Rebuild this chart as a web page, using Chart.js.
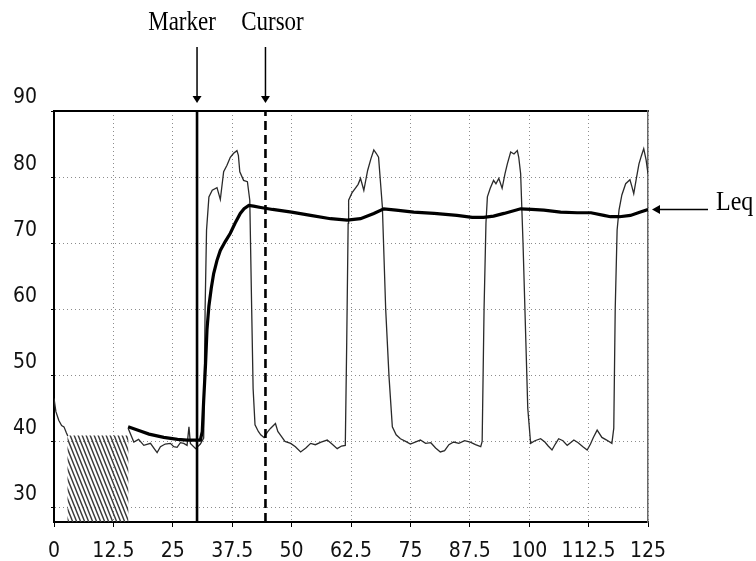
<!DOCTYPE html>
<html>
<head>
<meta charset="utf-8">
<title>Leq trace</title>
<script src="https://cdn.jsdelivr.net/npm/chart.js@4.4.1/dist/chart.umd.min.js"></script>
<style>
  body { margin: 0; background: #fff; }
</style>
</head>
<body>
<canvas id="leqChart" width="756" height="561"></canvas>
<script>
// axis ticks
var xTicks = [0, 12.5, 25, 37.5, 50, 62.5, 75, 87.5, 100, 112.5, 125];
var yTicks = [30, 40, 50, 60, 70, 80, 90];

// instantaneous level (thin trace), null = hidden under the hatch
var levelTime = [0, 0.4, 1.0, 1.6, 2.1, 2.6, 2.9, 9,
  15.6, 16.8, 17.8, 18.9, 20.3, 21.2, 21.7, 22.4, 23.4, 24.5, 25.2, 25.9, 26.6, 27.3, 28.0, 28.4, 28.7, 29.8, 30.8, 31.5,
  31.8, 32.1, 32.6, 33.3, 34.3, 35.0, 35.7, 36.4, 37.1, 37.8, 38.5, 38.8, 39.1, 39.9, 40.7, 41.2, 41.6, 41.9,
  42.3, 43.0, 43.5, 44.2, 44.9, 45.6, 46.6, 47.1, 47.7, 48.6, 49.8, 50.8, 51.9, 53.0, 54.0, 55.0, 56.2, 57.5, 58.5, 59.6, 60.5, 61.3,
  61.6, 61.9, 62.0, 62.7, 63.4, 64.0, 64.5, 65.2, 66.0, 66.7, 67.3, 67.8, 68.3, 69.1, 69.8, 70.5,
  71.2, 72.0, 72.9, 74.0, 75.0, 76.0, 77.1, 78.2, 79.3, 80.3, 81.3, 82.2, 83.1, 84.1, 85.2, 86.4, 87.6, 88.7, 89.8, 90.1,
  90.5, 90.9, 91.2, 91.8, 92.5, 93.0, 93.6, 94.3, 94.9, 95.4, 96.1, 96.8, 97.5, 97.8, 98.2, 98.7, 99.3, 99.7,
  100.3, 101.2, 102.4, 103.3, 104.0, 104.8, 105.5, 106.2, 107.1, 108.0, 108.7, 109.4, 110.3, 111.3, 112.2, 112.9, 113.5, 114.3, 115.3, 116.3, 117.4, 117.8,
  118.1, 118.5, 118.9, 119.5, 120.3, 121.2, 121.6, 122.0, 122.6, 123.1, 123.6, 124.1, 124.6, 125.0];
var levelDb = [46.5, 44.5, 43.2, 42.4, 42.2, 41.3, 40.8, null,
  42.0, 39.9, 40.3, 39.4, 39.7, 38.8, 38.3, 39.2, 39.6, 39.7, 39.2, 39.1, 39.8, 39.7, 39.4, 42.2, 39.7, 38.9, 39.6, 40.5,
  60, 72, 77.0, 78.0, 78.4, 76.6, 80.8, 81.8, 83.0, 83.6, 84.0, 83.3, 80.8, 79.5, 79.3, 76.5, 60, 48,
  42.5, 41.5, 41.0, 40.6, 41.4, 42.0, 42.7, 41.5, 40.9, 40.0, 39.7, 39.2, 38.4, 39.0, 39.7, 39.5, 39.9, 40.2, 39.6, 38.9, 39.3, 39.4,
  55, 73, 76.5, 77.6, 78.3, 78.9, 79.8, 78.0, 81.0, 82.8, 84.1, 83.6, 83.0, 75.5, 60, 49.8,
  42.2, 41.0, 40.4, 40.0, 39.6, 39.9, 40.2, 39.7, 39.8, 39.0, 38.4, 38.6, 39.5, 39.9, 39.7, 40.1, 39.9, 39.5, 39.2, 40.0,
  60, 73, 77.0, 78.3, 79.5, 79.0, 79.8, 78.3, 80.5, 82.0, 83.8, 83.5, 84.0, 83.0, 80.5, 70, 55, 45,
  39.7, 40.1, 40.4, 39.9, 39.3, 38.7, 39.6, 40.4, 40.1, 39.4, 39.8, 40.2, 39.8, 39.2, 38.7, 39.6, 40.6, 41.7, 40.6, 40.2, 39.7, 42,
  60, 72, 75.0, 77.3, 79.0, 79.6, 78.6, 77.5, 80.0, 82.0, 83.2, 84.3, 82.6, 80.5];

// running Leq (thick trace)
var leqTime = [15.6, 18, 20, 23.1, 26, 28, 30.8, 31.2, 31.5, 31.9, 32.2, 32.6, 33.1, 33.6, 34.3, 35.0, 36.0, 37.1, 38.1, 39.2,
  40.0, 41.0, 42.0, 43.5, 46, 50, 54, 58.2, 61.7, 64.5, 67.3, 69.4, 72, 75.7, 80, 84.8, 88, 90.4, 92.5, 94.7,
  98.2, 100.5, 103.1, 106.6, 110.1, 113, 115.7, 117.1, 119, 121.3, 123.4, 125];
var leqDb = [42.2, 41.6, 41.1, 40.6, 40.3, 40.2, 40.2, 41.5, 46.2, 51.8, 57, 60.5, 63.2, 65.4, 67.4, 68.9, 70.2, 71.5, 73.0, 74.5,
  75.2, 75.7, 75.6, 75.4, 75.1, 74.7, 74.2, 73.7, 73.5, 73.7, 74.5, 75.2, 75.0, 74.7, 74.5, 74.2, 73.9, 73.9, 74.1, 74.5,
  75.2, 75.1, 75.0, 74.7, 74.6, 74.6, 74.2, 74.0, 74.0, 74.2, 74.7, 75.1];

// hatched block
var hatchTime = [2.8, 15.7];
var hatchTop = [40.9, 40.9];

var markerAt = 30.1;
var cursorAt = 44.5;
var yMin = 27.8, yMax = 90;

var toPoints = (xs, ys) => xs.map((v, i) => ({x: v, y: ys[i]}));

var makeHatch = () => {
    var c = document.createElement('canvas');
    c.width = 4; c.height = 10;
    var g = c.getContext('2d');
    g.strokeStyle = '#3a3a3a';
    g.lineWidth = 1.4;
    g.beginPath();
    [-4, 0, 4].forEach(dx => { g.moveTo(dx - 0.8, -2); g.lineTo(dx + 4.8, 12); });
    g.stroke();
    return g.createPattern(c, 'repeat');
};

var downArrow = (ctx, px, y0, y1) => {
    ctx.lineWidth = 1.5;
    ctx.beginPath(); ctx.moveTo(px, y0); ctx.lineTo(px, y1 - 5); ctx.stroke();
    ctx.beginPath(); ctx.moveTo(px - 4.5, y1 - 7); ctx.lineTo(px + 4.5, y1 - 7); ctx.lineTo(px, y1); ctx.closePath(); ctx.fill();
};

var serifText = (ctx, txt, cx, baseY, align) => {
    ctx.save();
    ctx.translate(cx, baseY);
    ctx.scale(1, 1.15);
    ctx.textAlign = align;
    ctx.textBaseline = 'alphabetic';
    ctx.fillText(txt, 0, 0);
    ctx.restore();
};

var callouts = {
    id: 'callouts',
    afterDatasetsDraw(chart) {
        var ctx = chart.ctx, x = chart.scales.x, y = chart.scales.y;
        var mx = x.getPixelForValue(markerAt), cx = x.getPixelForValue(cursorAt);
        ctx.save();
        ctx.fillStyle = '#000';
        ctx.strokeStyle = '#000';
        ctx.font = '23px "Liberation Serif"';
        serifText(ctx, 'Marker', mx - 15, 30, 'center');
        serifText(ctx, 'Cursor', cx + 7, 30, 'center');
        downArrow(ctx, mx, 47, chart.chartArea.top - 8);
        downArrow(ctx, cx, 47, chart.chartArea.top - 8);

        // Leq pointer
        var ly = y.getPixelForValue(leqDb[leqDb.length - 1]);
        var tip = chart.chartArea.right + 4;
        ctx.lineWidth = 1.5;
        ctx.beginPath(); ctx.moveTo(708, ly); ctx.lineTo(tip + 6, ly); ctx.stroke();
        ctx.beginPath(); ctx.moveTo(tip, ly); ctx.lineTo(tip + 8, ly - 4.5); ctx.lineTo(tip + 8, ly + 4.5); ctx.closePath(); ctx.fill();
        ctx.font = '24px "Liberation Serif"';
        serifText(ctx, 'Leq', 716, ly + 1, 'left');
        ctx.restore();
    }
};

var tickFont = {family: '"DejaVu Sans Condensed", "DejaVu Sans"', size: 21};

new Chart(document.getElementById('leqChart'), {
    type: 'line',
    data: {
        datasets: [
            {
                label: 'Leq',
                data: toPoints(leqTime, leqDb),
                borderColor: '#000',
                borderWidth: 3.2,
                order: 0
            },
            {
                label: 'Marker',
                data: toPoints([markerAt, markerAt], [yMin, yMax]),
                borderColor: '#000',
                borderWidth: 2.6,
                order: 1
            },
            {
                label: 'Cursor',
                data: toPoints([cursorAt, cursorAt], [yMin, yMax]),
                borderColor: '#000',
                borderWidth: 2.6,
                borderDash: [9, 5],
                order: 1
            },
            {
                label: 'Level',
                data: toPoints(levelTime, levelDb),
                borderColor: '#2a2a2a',
                borderWidth: 1.3,
                spanGaps: false,
                order: 2
            },
            {
                label: 'hatch',
                data: toPoints(hatchTime, hatchTop),
                borderWidth: 0,
                borderColor: 'rgba(0,0,0,0)',
                backgroundColor: makeHatch(),
                fill: 'start',
                order: 3
            }
        ]
    },
    options: {
        responsive: false,
        animation: false,
        layout: { padding: {left: 13, right: 108, top: 111, bottom: 0} },
        elements: { point: { radius: 0 }, line: { tension: 0 } },
        plugins: { legend: { display: false }, tooltip: { enabled: false } },
        scales: {
            x: {
                type: 'linear', min: 0, max: 125,
                afterBuildTicks: s => { s.ticks = xTicks.map(v => ({value: v})); },
                afterFit: s => { s.height = 39; },
                grid: { color: '#8c8c8c', tickColor: '#000', tickLength: 5 },
                border: { color: '#000', width: 2, dash: [1, 3] },
                ticks: { color: '#111', font: tickFont, padding: 12, maxRotation: 0, callback: v => String(v) }
            },
            y: {
                type: 'linear', min: yMin, max: yMax,
                afterBuildTicks: s => { s.ticks = yTicks.map(v => ({value: v})); },
                afterFit: s => { s.width = 41; },
                grid: { color: '#8c8c8c', tickColor: '#000', tickLength: 3 },
                border: { color: '#000', width: 2, dash: [1, 3] },
                ticks: { color: '#111', font: tickFont, crossAlign: 'far', labelOffset: -13, padding: 0 }
            },
            xTop: {
                type: 'linear', position: 'top', min: 0, max: 125,
                afterFit: s => { s.height = 0; },
                grid: { display: false },
                ticks: { display: false },
                border: { color: '#000', width: 2 }
            },
            yRight: {
                type: 'linear', position: 'right', min: yMin, max: yMax,
                afterFit: s => { s.width = 0; },
                grid: { display: false },
                ticks: { display: false },
                border: { color: '#6a6a6a', width: 1.5 }
            }
        }
    },
    plugins: [callouts]
});
</script>
</body>
</html>
